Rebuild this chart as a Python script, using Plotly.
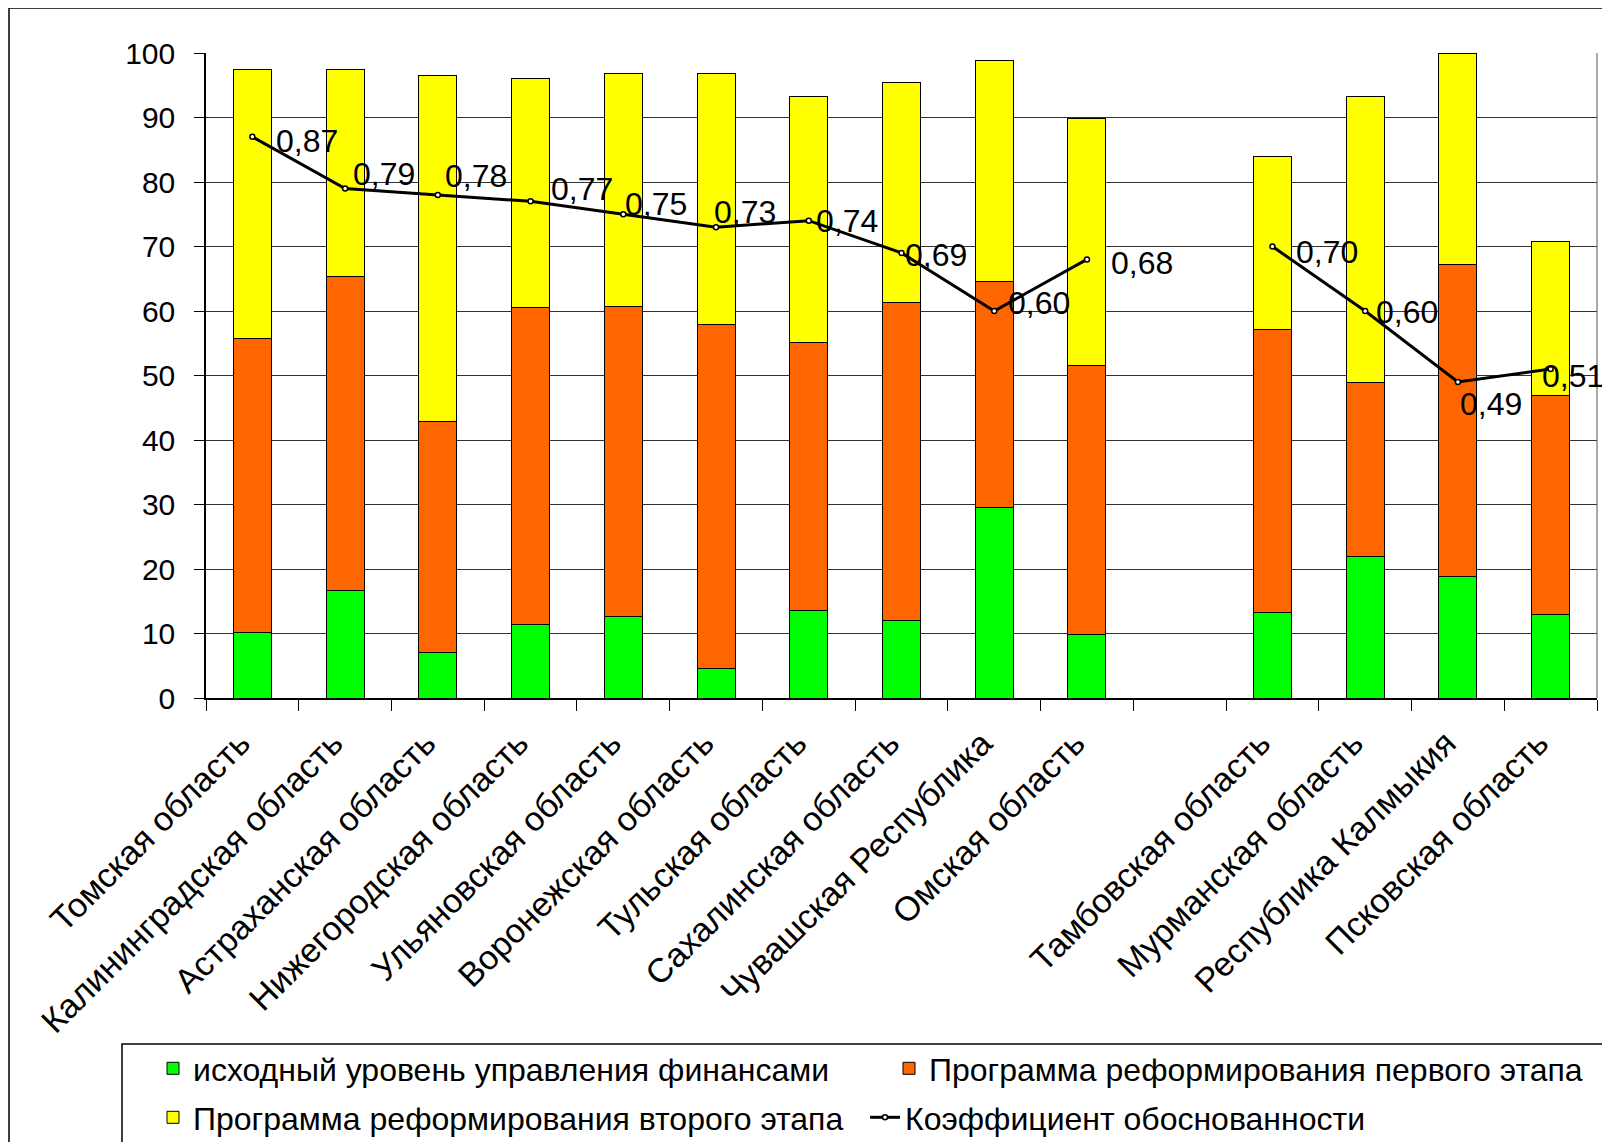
import plotly.graph_objects as go

# ---------------- data ----------------
categories = [
    "Томская область", "Калининградская область", "Астраханская область",
    "Нижегородская область", "Ульяновская область", "Воронежская область",
    "Тульская область", "Сахалинская область", "Чувашская Республика",
    "Омская область", " ", "Тамбовская область", "Мурманская область",
    "Республика Калмыкия", "Псковская область",
]
initial_level = [10.1, 16.6, 7.1, 11.4, 12.7, 4.5, 13.5, 12.0, 29.6, 9.9, None, 13.3, 22.0, 18.8, 13.0]
stage1_program = [45.7, 48.7, 35.7, 49.1, 48.0, 53.4, 41.6, 49.3, 34.9, 41.6, None, 43.8, 26.9, 48.4, 33.9]
stage2_program = [41.6, 32.1, 53.7, 35.6, 36.1, 38.9, 38.2, 34.2, 34.3, 38.3, None, 26.8, 44.4, 32.8, 23.8]
coefficient = [0.87, 0.79, 0.78, 0.77, 0.75, 0.73, 0.74, 0.69, 0.60, 0.68, None, 0.70, 0.60, 0.49, 0.51]
y_ticks = [0, 10, 20, 30, 40, 50, 60, 70, 80, 90, 100]

series_names = [
    "исходный уровень управления финансами",
    "Программа реформирования первого этапа",
    "Программа реформирования второго этапа",
    "Коэффициент обоснованности",
]

# ---------------- style ----------------
# the page body has an 8px margin, so the figure is 8px smaller than the window
W, H = 1602, 1134
ML, MR, MT, MB = 198, 13, 45, 444
PW, PH = W - ML - MR, H - MT - MB
REF_L, REF_B = 206, 698          # plot-area left / bottom in window pixels
FONT = "Liberation Sans, Arial, sans-serif"
# pixel offsets of each value label from its point (x right, y down)
label_dx = [22, 6, 5, 18, 0, -4, 5, 1, 12, 22, 0, 22, 9, 0, -11]
label_dy = [4, -14, -19, -12, -10, -15, 0, 2, -8, 4, 0, 5, 1, 22, 7]


def pxx(px):
    return (px - REF_L) / PW


def pxy(py):
    return (REF_B - py) / PH


fig = go.Figure()
bar_line = dict(color="black", width=1)
fig.add_trace(go.Bar(x=categories, y=initial_level, name=series_names[0],
                     marker=dict(color="#00FF00", line=bar_line), legend="legend"))
fig.add_trace(go.Bar(x=categories, y=stage1_program, name=series_names[1],
                     marker=dict(color="#FF6600", line=bar_line), legend="legend"))
fig.add_trace(go.Bar(x=categories, y=stage2_program, name=series_names[2],
                     marker=dict(color="#FFFF00", line=bar_line), legend="legend2"))
fig.add_trace(go.Scatter(x=categories, y=coefficient, name=series_names[3], yaxis="y2",
                         mode="lines+markers", line=dict(color="black", width=3),
                         marker=dict(color="white", size=5, line=dict(color="black", width=1.5)),
                         legend="legend2"))

annotations = []
for cat, v, dx, dy in zip(categories, coefficient, label_dx, label_dy):
    if v is None:
        continue
    annotations.append(dict(
        x=cat, y=v, xref="x", yref="y2", text=f"{v:.2f}".replace(".", ","),
        showarrow=False, xanchor="left", yanchor="middle", xshift=dx, yshift=-dy,
        font=dict(family=FONT, size=32, color="black"),
    ))

fig.update_layout(
    template="none",
    width=W, height=H,
    margin=dict(l=ML, r=MR, t=MT, b=MB, autoexpand=False),
    paper_bgcolor="white", plot_bgcolor="white",
    barmode="stack", bargap=0.59,
    font=dict(family=FONT, size=30, color="black"),
    xaxis=dict(
        type="category", categoryorder="array", categoryarray=categories,
        range=[-0.5, len(categories) - 0.5], autorange=False,
        tickangle=-45, tickson="boundaries", ticks="outside", ticklen=11,
        tickcolor="black", tickwidth=1, showline=True, linecolor="black", linewidth=1.5,
        mirror=False, showgrid=False, automargin=False,
        ticklabelstandoff=10, ticklabelshift=-12,
        tickfont=dict(family=FONT, size=34, color="black"),
    ),
    yaxis=dict(
        range=[0, 100], tickvals=y_ticks, ticks="outside", ticklen=10,
        tickcolor="black", showline=True, linecolor="black", linewidth=1.5,
        showgrid=True, gridcolor="#333333", gridwidth=1, zeroline=False,
        automargin=False, ticklabelstandoff=13,
        tickfont=dict(family=FONT, size=30, color="black"),
    ),
    yaxis2=dict(range=[0, 1], overlaying="y", visible=False),
    legend=dict(orientation="h", x=pxx(153), xanchor="left", y=pxy(1041), yanchor="top",
                entrywidth=691, entrywidthmode="pixels", bgcolor="rgba(0,0,0,0)",
                borderwidth=0, font=dict(family=FONT, size=32, color="black"),
                traceorder="normal", itemwidth=30),
    legend2=dict(orientation="h", x=pxx(153), xanchor="left", y=pxy(1090), yanchor="top",
                 entrywidth=667, entrywidthmode="pixels", bgcolor="rgba(0,0,0,0)",
                 borderwidth=0, font=dict(family=FONT, size=32, color="black"),
                 traceorder="normal", itemwidth=30),
    annotations=annotations,
    shapes=[
        # right border of plot area
        dict(type="line", xref="paper", yref="paper", x0=1, x1=1, y0=0, y1=1,
             line=dict(color="#555555", width=1)),
        # outer chart frame
        dict(type="rect", xref="paper", yref="paper", x0=pxx(9), x1=pxx(1640),
             y0=pxy(1170), y1=pxy(8), line=dict(color="black", width=1.5)),
        # legend frame
        dict(type="rect", xref="paper", yref="paper", x0=pxx(122), x1=pxx(1609),
             y0=pxy(1170), y1=pxy(1044), line=dict(color="black", width=1.5)),
    ],
)

fig.write_html("out.html")
